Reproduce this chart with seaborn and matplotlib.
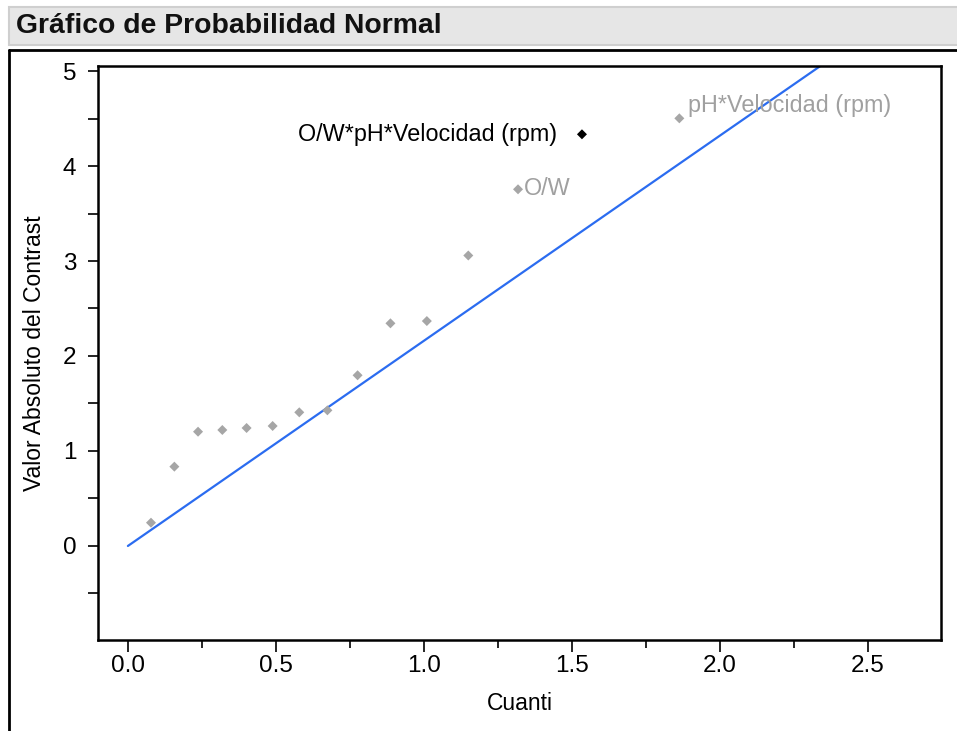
import matplotlib
matplotlib.use("Agg")
import matplotlib.pyplot as plt
from matplotlib.patches import Rectangle
from matplotlib.lines import Line2D
from matplotlib.ticker import MultipleLocator, FormatStrFormatter
import pandas as pd
import seaborn as sns

# Half-normal quantiles and absolute contrasts
cuanti = [0.078, 0.157, 0.237, 0.319, 0.401, 0.489, 0.579, 0.674,
          0.776, 0.887, 1.010, 1.150, 1.318, 1.534, 1.863]
contraste = [0.245, 0.835, 1.203, 1.221, 1.242, 1.263, 1.407, 1.428,
             1.797, 2.344, 2.368, 3.058, 3.755, 4.334, 4.502]
etiquetas = ["", "", "", "", "", "", "", "", "", "", "", "",
             "O/W", "O/W*pH*Velocidad (rpm)", "pH*Velocidad (rpm)"]
significativo = [False] * 13 + [True, False]

# Reference line through the origin
pendiente = 2.16
linea_x = [0.0, 2.5]

sns.set_theme(style="white")
plt.rcParams["font.family"] = ["Liberation Sans", "DejaVu Sans"]
plt.rcParams["text.color"] = "black"
plt.rcParams["axes.labelcolor"] = "black"
plt.rcParams["xtick.color"] = "black"
plt.rcParams["ytick.color"] = "black"

df = pd.DataFrame({"Cuanti": cuanti, "Contraste": contraste,
                   "Etiqueta": etiquetas, "Sig": significativo})
df_linea = pd.DataFrame({"x": linea_x, "y": [pendiente * v for v in linea_x]})

fig = plt.figure(figsize=(9.57, 7.31), dpi=100)
fig.patch.set_facecolor("white")

# Header bar with report title
fig.patches.append(Rectangle((9 / 957, 1 - 45 / 731), 1.0, 38 / 731,
                             transform=fig.transFigure, facecolor="#e6e6e6",
                             edgecolor="#cfcfcf", linewidth=1.5, zorder=0))
fig.text(16 / 957, 1 - 26 / 731, "Gráfico de Probabilidad Normal",
         fontsize=20.4, fontweight="bold", color="#111111", va="center", ha="left")
fig.lines.append(Line2D([9 / 957, 1.0], [1 - 50 / 731, 1 - 50 / 731],
                        transform=fig.transFigure, color="black", linewidth=2))
fig.lines.append(Line2D([9 / 957, 9 / 957], [0, 1 - 50 / 731],
                        transform=fig.transFigure, color="black", linewidth=2))

ax = fig.add_axes([98 / 957, 1 - 640 / 731, (941 - 98) / 957, (640 - 66) / 731])
ax.set_facecolor("white")

sns.lineplot(data=df_linea, x="x", y="y", ax=ax, color="#2b6cf0",
             linewidth=1.6, zorder=2)
sns.scatterplot(data=df[~df["Sig"]], x="Cuanti", y="Contraste", ax=ax,
                marker="D", s=26, color="#a6a6a6", edgecolor="none", zorder=3)
sns.scatterplot(data=df[df["Sig"]], x="Cuanti", y="Contraste", ax=ax,
                marker="D", s=26, color="black", edgecolor="none", zorder=3)

for _, fila in df[df["Etiqueta"] != ""].iterrows():
    if fila["Sig"]:
        ax.annotate(fila["Etiqueta"], (fila["Cuanti"], fila["Contraste"]),
                    xytext=(-18, 0), textcoords="offset points",
                    ha="right", va="center", fontsize=16.8, color="black")
    elif fila["Etiqueta"] == "O/W":
        ax.annotate(fila["Etiqueta"], (fila["Cuanti"], fila["Contraste"]),
                    xytext=(4, 0.5), textcoords="offset points",
                    ha="left", va="center", fontsize=16.8, color="#a0a0a0")
    else:
        ax.annotate(fila["Etiqueta"], (fila["Cuanti"], fila["Contraste"]),
                    xytext=(6, 9), textcoords="offset points",
                    ha="left", va="center", fontsize=16.8, color="#a0a0a0")

ax.set_xlim(-0.101, 2.747)
ax.set_ylim(-0.99, 5.053)
ax.xaxis.set_major_locator(MultipleLocator(0.5))
ax.xaxis.set_minor_locator(MultipleLocator(0.25))
ax.yaxis.set_major_locator(MultipleLocator(1))
ax.yaxis.set_minor_locator(MultipleLocator(0.5))
ax.xaxis.set_major_formatter(FormatStrFormatter("%.1f"))

ax.tick_params(axis="x", which="major", direction="out", length=8.5, width=1.2,
               labelsize=17.5, pad=2, color="black", labelcolor="black",
               bottom=True)
ax.tick_params(axis="x", which="minor", direction="out", length=5.5, width=1.2,
               color="black", bottom=True)
ax.tick_params(axis="y", which="both", direction="out", length=7.5, width=1.2,
               labelsize=17.5, pad=8, color="black", labelcolor="black",
               left=True)

for lado in ["left", "bottom", "top", "right"]:
    ax.spines[lado].set_visible(True)
    ax.spines[lado].set_color("black")
    ax.spines[lado].set_linewidth(1.8)

ax.set_xlabel("Cuanti", fontsize=16.5, labelpad=11, color="black")
ax.set_ylabel("Valor Absoluto del Contrast", fontsize=16.5, labelpad=12,
              color="black")

fig.savefig("out.png", dpi=100, facecolor="white")
